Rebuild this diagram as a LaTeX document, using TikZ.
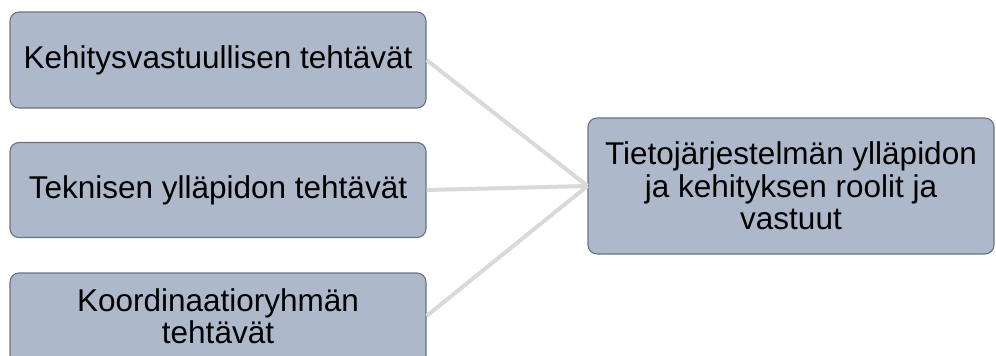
\documentclass[tikz,border=0pt]{standalone}
\usepackage{fontspec}
\setmainfont{Liberation Sans}
\definecolor{boxfill}{HTML}{ADB9CA}
\definecolor{boxline}{HTML}{6B7380}
\definecolor{linkgray}{HTML}{D9D9D9}
\begin{document}
\begin{tikzpicture}[x=1pt,y=-1pt,
  boxtext/.style={align=center, inner sep=0pt, font=\fontsize{31.5}{32.5}\selectfont},
  rolebox/.style={boxtext, draw=boxline, line width=1.1pt, fill=boxfill, rounded corners=9pt},
  link/.style={draw=linkgray, line width=4pt}]
\useasboundingbox (0,0) rectangle (996,356);
\clip (0,0) rectangle (996,356);
\node[rolebox, minimum width=416pt, minimum height=96pt] (kehitys) at (218,60) {Kehitysvastuullisen tehtävät};
\node[rolebox, minimum width=416pt, minimum height=95pt] (tekninen) at (218,190) {Teknisen ylläpidon tehtävät};
% the third box runs past the lower edge; its text sits near the top
\node[rolebox, minimum width=416pt, minimum height=114pt] (koord) at (218,330) {};
\node[boxtext] (koordtxt) at (218,316) {Koordinaatioryhmän\\tehtävät};
\node[rolebox, minimum width=406pt, minimum height=136pt] (roolit) at (791,186) {Tietojärjestelmän ylläpidon\\ja kehityksen roolit ja\\vastuut};
\draw[link] (kehitys.east) -- (roolit.west);
\draw[link] (tekninen.east) -- (roolit.west);
\draw[link] (koordtxt -| koord.east) -- (roolit.west);
\end{tikzpicture}
\end{document}
